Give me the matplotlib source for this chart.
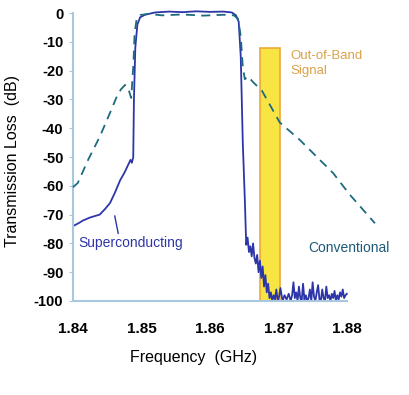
import matplotlib.pyplot as plt
from matplotlib.patches import Rectangle

# Superconducting filter response (solid)
sc_freq = [1.8400, 1.8408, 1.8415, 1.8425, 1.8439, 1.8447, 1.8454, 1.8461, 1.8469,
           1.8475, 1.8479, 1.8484, 1.8486, 1.8488, 1.8489, 1.8491, 1.8494, 1.8498,
           1.8505, 1.8520, 1.8540, 1.8560, 1.8580, 1.8600, 1.8620, 1.8632, 1.8638,
           1.8642, 1.8645, 1.8648, 1.8651, 1.8653, 1.8655, 1.8657, 1.8659, 1.8661,
           1.8663, 1.8665, 1.8667, 1.8669, 1.8671, 1.8673, 1.8675, 1.8677, 1.8679,
           1.8681, 1.8683, 1.8685, 1.8687, 1.8689, 1.8691, 1.8693, 1.8695, 1.8697,
           1.8699, 1.8701, 1.8703, 1.8706, 1.8709, 1.8712, 1.8715, 1.8718, 1.8720,
           1.8722, 1.8724, 1.8726, 1.8728, 1.8730, 1.8732, 1.8734, 1.8736, 1.8738,
           1.8740, 1.8742, 1.8744, 1.8746, 1.8748, 1.8750, 1.8752, 1.8754, 1.8756,
           1.8758, 1.8760, 1.8762, 1.8764, 1.8766, 1.8768, 1.8770, 1.8772, 1.8774,
           1.8776, 1.8778, 1.8780, 1.8782, 1.8784, 1.8786, 1.8788, 1.8790, 1.8792,
           1.8794, 1.8796, 1.8798, 1.8800]
sc_loss = [-74.0, -73.0, -72.0, -71.0, -70.0, -68.0, -66.0, -62.5, -58.0,
           -55.5, -53.5, -51.0, -52.0, -50.0, -30.0, -12.0, -4.0, -1.5,
           -0.6, 0.2, 0.5, 0.3, 0.6, 0.4, 0.5, 0.2, -0.8,
           -3.0, -15.0, -45.0, -65.0, -80.5, -78.0, -83.0, -81.0, -84.5,
           -80.0, -85.0, -87.0, -84.0, -90.0, -86.0, -92.0, -88.0, -95.0,
           -91.0, -97.0, -94.0, -99.0, -97.0, -100.0, -98.0, -99.5, -96.0,
           -100.0, -98.5, -95.5, -100.0, -98.0, -99.5, -97.5, -100.0, -98.0,
           -93.5, -99.0, -97.0, -100.0, -95.0, -99.0, -100.0, -94.0, -99.5,
           -98.0, -100.0, -99.0, -96.0, -100.0, -93.5, -98.5, -100.0, -97.0,
           -94.5, -99.5, -100.0, -96.0, -99.0, -100.0, -95.0, -99.0, -98.0,
           -100.0, -97.5, -99.0, -96.5, -100.0, -98.0, -99.5, -97.0, -98.5,
           -96.0, -99.0, -98.0, -97.5]

# Conventional filter response (dashed)
cv_freq = [1.8400, 1.8407, 1.8422, 1.8439, 1.8454, 1.8464, 1.8470, 1.8476, 1.8480,
           1.8485, 1.8488, 1.8490, 1.8493, 1.8498, 1.8510, 1.8530, 1.8560, 1.8590,
           1.8620, 1.8635, 1.8641, 1.8645, 1.8648, 1.8651, 1.8655, 1.8658, 1.8663,
           1.8676, 1.8702, 1.8731, 1.8780, 1.8804, 1.8841]
cv_loss = [-60.5, -59.0, -51.0, -43.0, -34.7, -29.0, -26.5, -25.0, -25.7,
           -29.5, -18.7, -7.0, -2.0, -0.7, -0.3, -0.8, -0.5, -0.9,
           -0.6, -0.8, -2.0, -8.0, -18.7, -23.0, -22.0, -22.6, -24.0,
           -27.0, -38.0, -44.0, -55.6, -63.0, -73.0]

x_ticks = [1.84, 1.85, 1.86, 1.87, 1.88]
y_ticks = [0, -10, -20, -30, -40, -50, -60, -70, -80, -90, -100]

# out-of-band signal band
band_lo, band_hi, band_top = 1.8673, 1.8702, -12

font = ['Liberation Sans', 'DejaVu Sans']

fig = plt.figure(figsize=(4.09, 3.95), dpi=100)
ax = fig.add_axes([0.1785, 0.238, 0.77, 0.729])

ax.add_patch(Rectangle((band_lo, -100), band_hi - band_lo, band_top + 100,
                       facecolor='#f8e544', edgecolor='#eca83a', lw=1.2, zorder=1))

ax.plot(cv_freq, cv_loss, color='#1d6a80', lw=1.3, ls=(0, (5, 3.5)), zorder=3, clip_on=False)
ax.plot(sc_freq, sc_loss, color='#2d36a8', lw=1.3, zorder=2, clip_on=False)

ax.set_xlim(1.84, 1.886)
ax.set_ylim(-100, 0)
ax.set_xticks(x_ticks)
ax.set_xticklabels(['%.2f' % t for t in x_ticks], fontfamily=font,
                   fontweight='bold', fontsize=11)
ax.set_yticks(y_ticks)
ax.set_yticklabels([str(t) for t in y_ticks], fontfamily=font,
                   fontweight='bold', fontsize=10.5)
ax.tick_params(axis='x', length=0, pad=15)
ax.tick_params(axis='y', length=3, color='#a8c8e0', pad=4)

for s in ['top', 'right']:
    ax.spines[s].set_visible(False)
for s in ['left', 'bottom']:
    ax.spines[s].set_color('#a8c8e0')
    ax.spines[s].set_linewidth(1.5)
ax.spines['bottom'].set_bounds(1.84, 1.88)

ax.set_xlabel('Frequency  (GHz)', fontfamily=font, fontsize=11.5)
ax.set_ylabel('Transmission Loss  (dB)', fontfamily=font, fontsize=11.5)
ax.xaxis.set_label_coords(0.384, -0.17)
ax.yaxis.set_label_coords(-0.168, 0.486)

ax.text(1.8408, -80, 'Superconducting', color='#2d36a8', fontfamily=font,
        fontsize=10, va='center', ha='left')
ax.plot([1.8461, 1.8466], [-70.5, -76.5], color='#2d36a8', lw=1)
ax.text(1.8862, -81.5, 'Conventional', color='#1d5a78', fontfamily=font,
        fontsize=10, va='center', ha='right')
ax.text(1.8717, -17.5, 'Out-of-Band\nSignal', color='#d9a24a',
        fontfamily=font, fontsize=9.5, va='center', ha='left', linespacing=1.35)

fig.savefig('out.png', dpi=100)
